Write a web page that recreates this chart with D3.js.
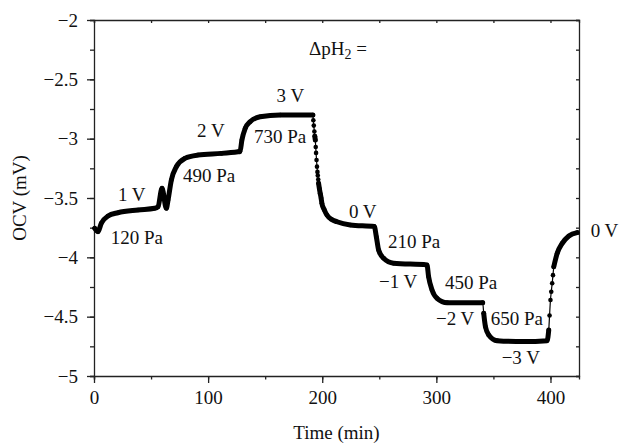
<!DOCTYPE html>
<html>
<head>
<meta charset="utf-8">
<script src="https://cdn.jsdelivr.net/npm/d3@7"></script>
<style>
  body { margin: 0; background: #fff; }
  svg { display: block; font-family: "Liberation Serif", "DejaVu Serif", serif; }
</style>
</head>
<body>
<svg id="svg_ocv" width="619" height="444"></svg>
<script>
// OCV vs time (min, mV)
const timeMin = [0.6, 3.5, 6.4, 12.3, 21, 38.6, 53.2, 56.1, 59.6, 63.4, 64.9, 67.8, 72.2, 79.6, 91.2, 111.7,
  126.3, 128, 129.6, 132.5, 136.8, 145.6, 163.2, 191.8, 192.2, 192.6, 193.1, 193.5, 193.9, 194.3, 194.6, 195,
  195.4, 195.8, 196.1, 196.5, 196.8, 197.5, 198.2, 199, 199.7, 201.8, 204.1, 208, 212.9, 224.6, 245.6, 247.4,
  249.4, 253.8, 262.5, 291.8, 293.2, 296.2, 300.6, 309.4, 340.6, 341.5, 343, 345.9, 353.2, 376.6, 397.1,
  398.5, 399.2, 400, 400.7, 401.5, 402.2, 402.9, 405.9, 410.3, 416.1, 423.4];
const ocv = [-3.755, -3.784, -3.713, -3.652, -3.624, -3.601, -3.587, -3.573, -3.418, -3.587, -3.517, -3.348,
  -3.236, -3.166, -3.138, -3.124, -3.110, -3.108, -3.011, -2.913, -2.857, -2.815, -2.800, -2.800, -2.845,
  -2.89, -2.94, -2.98, -3.011, -3.07, -3.12, -3.18, -3.236, -3.28, -3.31, -3.345, -3.376, -3.42, -3.46, -3.50,
  -3.545, -3.60, -3.643, -3.68, -3.700, -3.727, -3.741, -3.826, -3.938, -4.008, -4.050, -4.064, -4.163,
  -4.275, -4.345, -4.382, -4.382, -4.472, -4.584, -4.654, -4.702, -4.710, -4.702, -4.612, -4.49, -4.360,
  -4.29, -4.219, -4.15, -4.079, -3.966, -3.882, -3.820, -3.792];

const xTicks = [0, 100, 200, 300, 400];
const xMinorTicks = [0, 50, 100, 150, 200, 250, 300, 350, 400];
const yTicks = [-5, -4.5, -4, -3.5, -3, -2.5, -2];
const yMinorTicks = [-5, -4.75, -4.5, -4.25, -4, -3.75, -3.5, -3.25, -3, -2.75, -2.5, -2.25, -2];

// annotation labels: [text, time, ocv] (anchor = start of text, baseline)
const notes = [
  ['1 V', 21, -3.525],
  ['120 Pa', 14.6, -3.888],
  ['490 Pa', 78, -3.363],
  ['2 V', 90.3, -2.986],
  ['3 V', 160, -2.688],
  ['730 Pa', 140.2, -3.039],
  ['0 V', 223.4, -3.666],
  ['210 Pa', 257.6, -3.919],
  ['−1 V', 249.7, -4.261],
  ['450 Pa', 307.6, -4.269],
  ['−2 V', 299.7, -4.57],
  ['650 Pa', 347.6, -4.57],
  ['−3 V', 357.2, -4.899],
  ['0 V', 435.2, -3.826]
];

const svg = d3.select('#svg_ocv');
const mLeft = 94, mRight = 579, mTop = 20, mBottom = 376;
const fontSize = 19;

const xScale = d3.scaleLinear().domain([0, 425]).range([mLeft, mRight]);
const yScale = d3.scaleLinear().domain([-5, -2]).range([mBottom, mTop]);
const fmt = d3.format('~g');

// axes
function styleAxis(g) {
  g.selectAll('path, line').attr('stroke', '#222').attr('stroke-width', 1.3);
  g.selectAll('text').attr('font-family', '"Liberation Serif", serif').attr('font-size', fontSize).attr('fill', '#111');
}

svg.append('g')
   .attr('transform', `translate(0, ${mBottom})`)
   .call(d3.axisBottom(xScale).tickValues(xMinorTicks).tickSize(3.5).tickFormat(''))
   .call(styleAxis);
svg.append('g')
   .attr('transform', `translate(0, ${mBottom})`)
   .call(d3.axisBottom(xScale).tickValues(xTicks).tickSize(7).tickPadding(8).tickFormat(fmt))
   .call(styleAxis)
   .call(g => g.select('.domain').remove());

svg.append('g')
   .attr('transform', `translate(0, ${mTop})`)
   .call(d3.axisTop(xScale).tickValues(xMinorTicks).tickSize(-3).tickFormat(''))
   .call(styleAxis);

svg.append('g')
   .attr('transform', `translate(${mLeft}, 0)`)
   .call(d3.axisLeft(yScale).tickValues(yMinorTicks).tickSize(4).tickFormat(''))
   .call(styleAxis);
svg.append('g')
   .attr('transform', `translate(${mLeft}, 0)`)
   .call(d3.axisLeft(yScale).tickValues(yTicks).tickSize(7).tickPadding(9).tickFormat(fmt))
   .call(styleAxis)
   .call(g => g.select('.domain').remove());

svg.append('g')
   .attr('transform', `translate(${mRight}, 0)`)
   .call(d3.axisRight(yScale).tickValues(yMinorTicks).tickSize(-3).tickFormat(''))
   .call(styleAxis);

// axis titles
svg.append('text')
   .attr('x', (mLeft + mRight) / 2).attr('y', 439)
   .attr('text-anchor', 'middle').attr('font-size', fontSize).attr('fill', '#111')
   .text('Time (min)');
svg.append('text')
   .attr('transform', `translate(26, ${(mTop + mBottom) / 2}) rotate(-90)`)
   .attr('text-anchor', 'middle').attr('font-size', fontSize).attr('fill', '#111')
   .text('OCV (mV)');

// data
const pts = timeMin.map((t, i) => [xScale(t), yScale(ocv[i])]);
const line = d3.line().curve(d3.curveMonotoneX);
const curve = svg.append('g');

// thin line everywhere
curve.append('path')
     .attr('d', line(pts))
     .attr('fill', 'none').attr('stroke', '#000').attr('stroke-width', 1.2);

// thick band where the signal changes slowly (samples overlap there)
const runs = [];
let run = [pts[0]];
for (let i = 1; i < pts.length; i++) {
  const rate = Math.abs(ocv[i] - ocv[i - 1]) / (timeMin[i] - timeMin[i - 1]);
  if (rate > 0.08) {
    if (run.length > 1) runs.push(run);
    run = [pts[i]];
  } else {
    run.push(pts[i]);
  }
}
if (run.length > 1) runs.push(run);

curve.selectAll('path.band')
     .data(runs)
     .join('path')
     .attr('class', 'band')
     .attr('d', d => line(d))
     .attr('fill', 'none').attr('stroke', '#000')
     .attr('stroke-width', 5).attr('stroke-linecap', 'round').attr('stroke-linejoin', 'round');

curve.selectAll('circle')
     .data(pts)
     .join('circle')
     .attr('cx', d => d[0]).attr('cy', d => d[1])
     .attr('r', 2.3).attr('fill', '#000');

// labels
svg.append('text')
   .attr('x', 309).attr('y', 55)
   .attr('font-size', fontSize).attr('fill', '#111')
   .html('ΔpH<tspan font-size="14" dy="4">2</tspan><tspan dy="-4"> =</tspan>');

svg.selectAll('.note')
   .data(notes)
   .join('text')
   .attr('class', 'note')
   .attr('x', d => xScale(d[1])).attr('y', d => yScale(d[2]))
   .attr('font-size', fontSize).attr('fill', '#111')
   .text(d => d[0]);
</script>
</body>
</html>
